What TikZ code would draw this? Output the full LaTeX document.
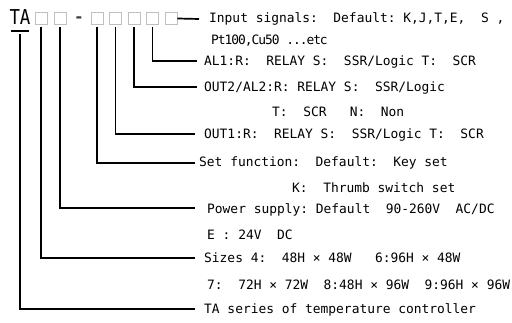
\documentclass[tikz,border=0pt]{standalone}
\usepackage{fontspec}
\setmonofont{DejaVu Sans Mono}
\begin{document}
\begin{tikzpicture}[x=1pt,y=-1pt,
  lbl/.style={anchor=west,inner sep=0pt,text height=9.4pt,text depth=0pt,
    font=\ttfamily\fontsize{12.9}{14}\selectfont},
  cell/.style={draw=gray!50,line width=0.8pt,minimum size=12pt,inner sep=0pt},
  lead/.style={line width=1.7pt}]
\fill[white] (0,0) rectangle (512,323);
\useasboundingbox (0,0) rectangle (512,323);
% title and code cells
\node[inner sep=0pt,text height=15pt,text depth=0pt,anchor=south,
  font=\ttfamily\fontsize{20.5}{22}\selectfont] (ta) at (20,25) {\scalebox{0.85}[1]{TA}};
\draw[line width=1.8pt] (11,31) -- (29,31);
\node[cell] (b1) at (41,18.5) {};
\node[cell] (b2) at (60,18.5) {};
\node[inner sep=0pt,anchor=base,font=\ttfamily\bfseries\fontsize{16}{17}\selectfont,text=black!75] (dash) at (79,23) {-};
\node[cell] (b3) at (97,18.5) {};
\node[cell] (b4) at (115.5,18.5) {};
\node[cell] (b5) at (134,18.5) {};
\node[cell] (b6) at (152.5,18.5) {};
\node[cell] (b7) at (171,18.5) {};
% labels
\node[lbl] (tIn)  at (209,18)  {Input signals:~~Default:~K,J,T,E,~~S~,};
\node[lbl] (tPt)  at (211,40)  {\addfontfeature{LetterSpace=-8}Pt100,Cu50 ...etc};
\node[lbl] (tAL1) at (204,61)  {AL1:R:~~RELAY S:~~SSR/Logic T:~~SCR};
\node[lbl] (tO2)  at (204,87)  {OUT2/AL2:R:~RELAY S:~~SSR/Logic};
\node[lbl] (tO2b) at (272,112) {T:~~SCR~~~N:~~Non};
\node[lbl] (tO1)  at (204,134) {OUT1:R:~~RELAY S:~~SSR/Logic T:~~SCR};
\node[lbl] (tSet) at (199,162) {Set function:~~Default:~~Key set};
\node[lbl] (tK)   at (292,188) {K:~~Thrumb switch set};
\node[lbl] (tPw)  at (207,209) {Power supply:~Default~~90-260V~~AC/DC};
\node[lbl] (tE)   at (207,235) {E~:~24V~~DC};
\node[lbl] (tSz)  at (204,258) {Sizes 4:~~48H × 48W~~~6:96H × 48W};
\node[lbl] (tSz2) at (207,285) {7:~~72H × 72W~~8:48H × 96W~~9:96H × 96W};
\node[lbl] (tTA)  at (204,309) {TA series of temperature controller};
% leader ends
\coordinate (eIn)  at (199,19);
\coordinate (eAL1) at (197,61);
\coordinate (eO2)  at (197,87);
\coordinate (eO1)  at (195,134);
\coordinate (eSet) at (195,163);
\coordinate (ePw)  at (195,208);
\coordinate (eSz)  at (195,258);
\coordinate (eTA)  at (195,309);
% leaders
\draw[lead] (b7.east) -- (eIn);
\draw[lead] ([yshift=-2pt]b6.south) |- (eAL1);
\draw[lead] ([yshift=-2pt]b5.south) |- (eO2);
\draw[lead] ([yshift=-2pt]b4.south) |- (eO1);
\draw[lead] ([yshift=-2pt]b3.south) |- (eSet);
\draw[lead] ([yshift=-2pt]b2.south) |- (ePw);
\draw[lead] ([yshift=-2pt]b1.south) |- (eSz);
\draw[lead] ([yshift=-9pt]ta.south) |- (eTA);
\end{tikzpicture}
\end{document}
